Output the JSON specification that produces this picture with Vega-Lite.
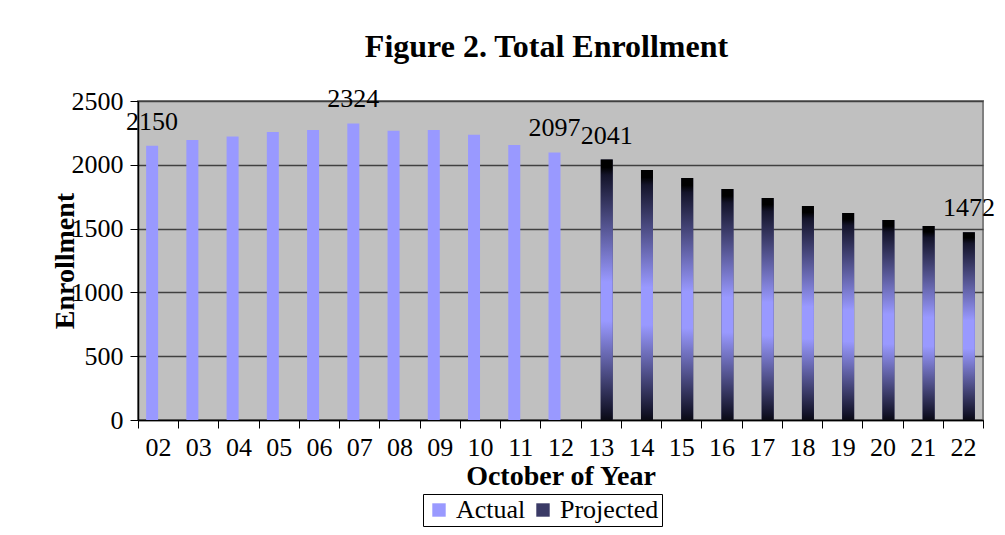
{
  "$schema": "https://vega.github.io/schema/vega-lite/v6.json",
  "autosize": "none",
  "width": 845,
  "height": 319,
  "padding": {"left": 138, "top": 101, "right": 22, "bottom": 115},
  "background": "white",
  "config": {
    "font": "Liberation Serif",
    "view": {"fill": "#C0C0C0", "stroke": "#808080", "strokeWidth": 2}
  },
  "title": {
    "text": "Figure 2. Total Enrollment",
    "font": "Liberation Serif",
    "fontSize": 32,
    "fontWeight": "bold",
    "color": "black",
    "anchor": "middle",
    "offset": 22,
    "dx": -14
  },
  "data": {
    "values": [
      {"year": "02", "enrollment": 2150, "type": "Actual", "label": "2150"},
      {"year": "03", "enrollment": 2195, "type": "Actual", "label": ""},
      {"year": "04", "enrollment": 2222, "type": "Actual", "label": ""},
      {"year": "05", "enrollment": 2257, "type": "Actual", "label": ""},
      {"year": "06", "enrollment": 2273, "type": "Actual", "label": ""},
      {"year": "07", "enrollment": 2324, "type": "Actual", "label": "2324"},
      {"year": "08", "enrollment": 2266, "type": "Actual", "label": ""},
      {"year": "09", "enrollment": 2273, "type": "Actual", "label": ""},
      {"year": "10", "enrollment": 2236, "type": "Actual", "label": ""},
      {"year": "11", "enrollment": 2155, "type": "Actual", "label": ""},
      {"year": "12", "enrollment": 2097, "type": "Actual", "label": "2097"},
      {"year": "13", "enrollment": 2041, "type": "Projected", "label": "2041"},
      {"year": "14", "enrollment": 1960, "type": "Projected", "label": ""},
      {"year": "15", "enrollment": 1896, "type": "Projected", "label": ""},
      {"year": "16", "enrollment": 1810, "type": "Projected", "label": ""},
      {"year": "17", "enrollment": 1740, "type": "Projected", "label": ""},
      {"year": "18", "enrollment": 1677, "type": "Projected", "label": ""},
      {"year": "19", "enrollment": 1622, "type": "Projected", "label": ""},
      {"year": "20", "enrollment": 1567, "type": "Projected", "label": ""},
      {"year": "21", "enrollment": 1520, "type": "Projected", "label": ""},
      {"year": "22", "enrollment": 1472, "type": "Projected", "label": "1472"}
    ]
  },
  "encoding": {
    "x": {
      "field": "year",
      "type": "ordinal",
      "scale": {"paddingInner": 0, "paddingOuter": 0},
      "axis": {
        "title": "October of Year",
        "labelAngle": 0,
        "labelFont": "Liberation Serif",
        "labelFontSize": 26,
        "labelColor": "black",
        "labelPadding": 6,
        "titleFont": "Liberation Serif",
        "titleFontSize": 28,
        "titleFontWeight": "bold",
        "titleColor": "black",
        "titlePadding": 2,
        "tickBand": "extent",
        "tickSize": 8,
        "tickColor": "black",
        "domainColor": "black",
        "domainWidth": 1.5
      }
    },
    "xOffset": {
      "field": "type",
      "type": "nominal",
      "scale": {"domain": ["Actual", "Projected"], "paddingInner": 0, "paddingOuter": 0.677}
    },
    "y": {
      "field": "enrollment",
      "type": "quantitative",
      "scale": {"domain": [0, 2500], "nice": false},
      "axis": {
        "title": "Enrollment",
        "format": "d",
        "values": [0, 500, 1000, 1500, 2000, 2500],
        "labelFont": "Liberation Serif",
        "labelFontSize": 26,
        "labelColor": "black",
        "labelPadding": 7,
        "titleFont": "Liberation Serif",
        "titleFontSize": 28,
        "titleFontWeight": "bold",
        "titleColor": "black",
        "titlePadding": -8,
        "tickSize": 8,
        "tickColor": "black",
        "domainColor": "black",
        "domainWidth": 1.5,
        "grid": true,
        "gridColor": "#404040",
        "gridWidth": 1.5
      }
    }
  },
  "layer": [
    {
      "mark": {"type": "bar"},
      "encoding": {
        "color": {
          "field": "type",
          "type": "nominal",
          "scale": {
            "domain": ["Actual", "Projected"],
            "range": ["#9999FF", "#3a3a66"]
          },
          "legend": {
            "title": null,
            "orient": "none",
            "legendX": 285,
            "legendY": 393,
            "direction": "horizontal",
            "symbolType": "square",
            "symbolSize": 180,
            "symbolStrokeWidth": 0,
            "labelFont": "Liberation Serif",
            "labelFontSize": 26,
            "labelColor": "black",
            "strokeColor": "black",
            "padding": 3,
            "columnPadding": 4,
            "labelOffset": 4,
            "symbolOpacity": 1,
            "encode": {
              "symbols": {
                "update": {
                  "fill": [
                    {
                      "test": "datum.value === 'Projected'",
                      "value": {
                        "gradient": "linear",
                        "x1": 0, "y1": 0, "x2": 0, "y2": 1,
                        "stops": [
                          {"offset": 0, "color": "#000000"},
                          {"offset": 0.5, "color": "#9999FF"},
                          {"offset": 1, "color": "#000000"}
                        ]
                      }
                    },
                    {"value": "#9999FF"}
                  ]
                }
              }
            }
          }
        }
      }
    },
    {
      "transform": [{"filter": "datum.type === 'Projected'"}],
      "mark": {
        "type": "bar",
        "color": {
          "gradient": "linear",
          "x1": 0, "y1": 0, "x2": 0, "y2": 1,
          "stops": [
            {"offset": 0, "color": "#000000"},
            {"offset": 0.03, "color": "#000000"},
            {"offset": 0.06, "color": "#14142a"},
            {"offset": 0.47, "color": "#9999FF"},
            {"offset": 0.62, "color": "#9999FF"},
            {"offset": 0.97, "color": "#14142a"},
            {"offset": 1, "color": "#0a0a14"}
          ]
        }
      }
    },
    {
      "mark": {
        "type": "text",
        "font": "Liberation Serif",
        "fontSize": 26,
        "color": "black",
        "baseline": "alphabetic",
        "dy": -16
      },
      "encoding": {
        "text": {"field": "label"}
      }
    }
  ]
}
